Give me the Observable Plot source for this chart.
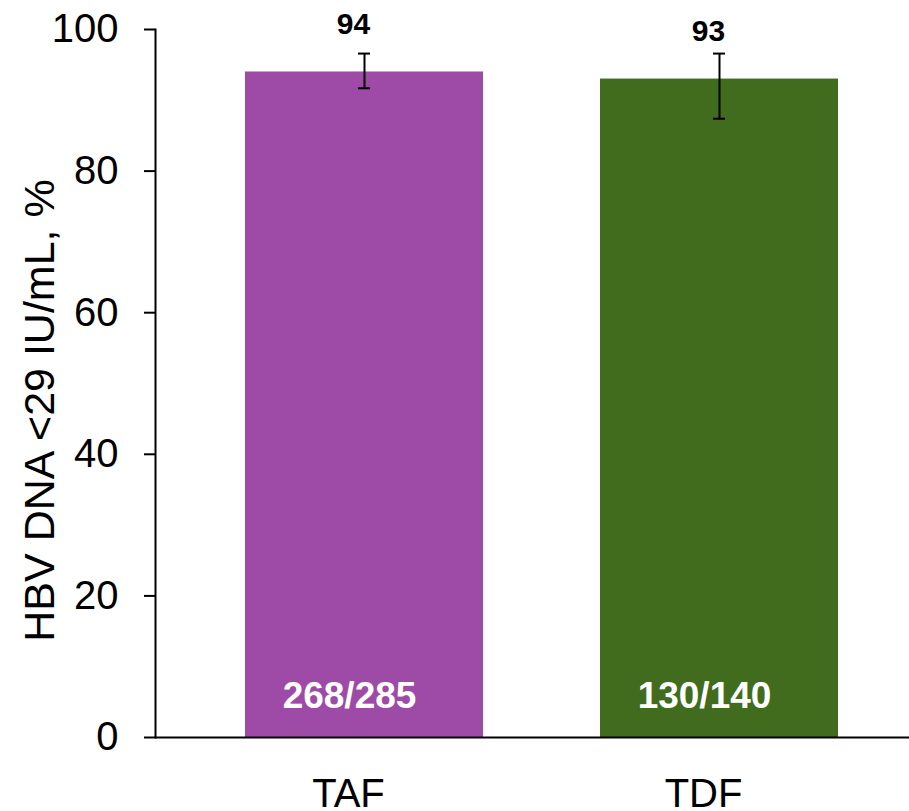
<!DOCTYPE html>
<html>
<head>
<meta charset="utf-8">
<script src="https://cdn.jsdelivr.net/npm/d3@7"></script>
<script src="https://cdn.jsdelivr.net/npm/@observablehq/plot@0.6"></script>
<style>
  html, body { margin: 0; padding: 0; background: #fff; }
  #chart { width: 909px; height: 811px; overflow: hidden; }
</style>
</head>
<body>
<div id="chart"></div>
<script>
const groups = ["TAF", "TDF"];
const pct = [94, 93];
const ciLow = [91.7, 87.4];
const ciHigh = [96.6, 96.6];
const counts = ["268/285", "130/140"];
const colors = ["#9D4BA6", "#416B1D"];
const yTicks = [0, 20, 40, 60, 80, 100];
const yLabel = "HBV DNA <29 IU/mL, %";

const data = groups.map((g, i) => ({
  group: g, pct: pct[i], lo: ciLow[i], hi: ciHigh[i], n: counts[i]
}));

const font = "'Liberation Sans', Arial, Helvetica, sans-serif";

const chart = Plot.plot({
  width: 909,
  height: 811,
  marginTop: 29,
  marginBottom: 74,
  marginLeft: 155,
  marginRight: 0,
  style: { fontFamily: font, background: "#fff", color: "#000", overflow: "visible" },
  x: { domain: groups, range: [155, 928], paddingInner: 0.33, paddingOuter: 0.253 },
  y: { domain: [0, 100] },
  color: { domain: groups, range: colors },
  marks: [
    Plot.barY(data, { x: "group", y: "pct", fill: "group" }),
    Plot.ruleX(data, { x: "group", y1: "lo", y2: "hi", stroke: "#000", strokeWidth: 2 }),
    Plot.tickY(data, { x: "group", y: "lo", stroke: "#000", strokeWidth: 2, insetLeft: 113, insetRight: 113 }),
    Plot.tickY(data, { x: "group", y: "hi", stroke: "#000", strokeWidth: 2, insetLeft: 113, insetRight: 113 }),
    Plot.text(data, { x: "group", y: "pct", text: d => String(d.pct), dx: -11, dy: -38, lineAnchor: "bottom", fontSize: 30, fontWeight: "bold", fill: "#000" }),
    Plot.text(data, { x: "group", y: 0, text: "n", dx: -15, dy: -30, lineAnchor: "bottom", fontSize: 37, fontWeight: "bold", fill: "#fff" }),
    Plot.ruleY([0], { stroke: "#000", strokeWidth: 2 }),
    Plot.frame({ anchor: "left", stroke: "#000", strokeWidth: 2 }),
    Plot.axisY({ ticks: yTicks, tickSize: 11, tickPadding: 26, fontSize: 40, strokeWidth: 2, label: null }),
    Plot.text([yLabel], { text: d => d, frameAnchor: "left", rotate: -90, dx: -102, dy: 27, lineAnchor: "bottom", textAnchor: "middle", fontSize: 43, fill: "#000" }),
    Plot.axisX({ tickSize: 0, tickPadding: 41, fontSize: 40, dx: -16, label: null })
  ]
});
document.getElementById("chart").appendChild(chart);
</script>
</body>
</html>
